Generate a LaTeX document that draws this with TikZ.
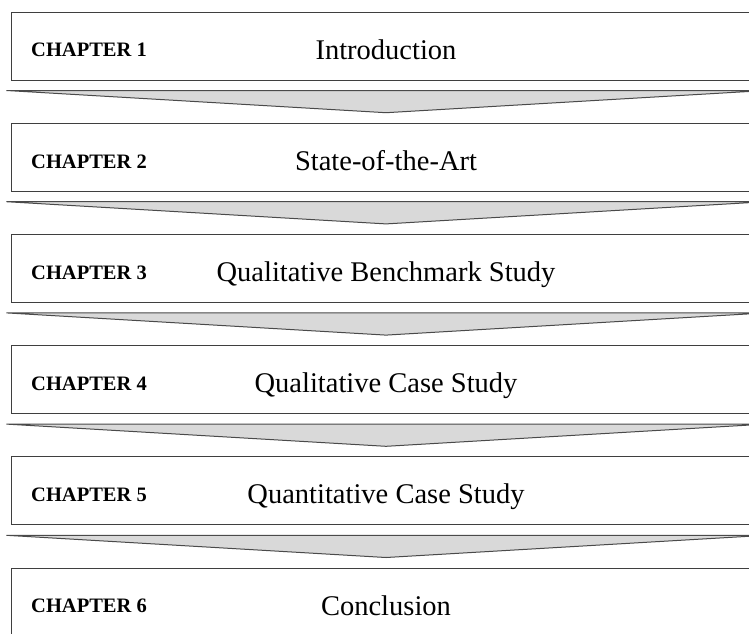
\documentclass[tikz,border=0pt]{standalone}
\usepackage{fontspec}
\setmainfont{Liberation Serif}
\usetikzlibrary{calc}
\definecolor{boxline}{HTML}{3F3F3F}
\definecolor{arrowline}{HTML}{4A4A4A}
\definecolor{arrowfill}{HTML}{D9D9D9}
\begin{document}
\begin{tikzpicture}[x=1pt,y=-1pt,
  chapbox/.style={draw=boxline, line width=1pt, minimum width=750pt,
    minimum height=68pt, inner sep=0pt, fill=white},
  chaplabel/.style={anchor=base west, inner sep=0pt,
    font=\fontsize{20.5}{24}\selectfont\bfseries},
  chaptitle/.style={anchor=base, inner sep=0pt,
    font=\fontsize{28.5}{34}\selectfont},
  flowarrow/.style={draw=arrowline, line width=1pt, fill=arrowfill,
    line join=miter}]
\useasboundingbox (0,0) rectangle (749,633);
\clip (0,0) rectangle (749,633);
% chapter boxes, one per row
\foreach \i/\t in {1/Introduction, 2/State-of-the-Art,
    3/Qualitative Benchmark Study, 4/Qualitative Case Study,
    5/Quantitative Case Study, 6/Conclusion}{
  \pgfmathsetmacro\rowtop{12+111.2*(\i-1)}
  \node[chapbox] (b\i) at (386,\rowtop+34) {};
  \node[chaplabel] (c\i) at (31,\rowtop+44.8) {CHAPTER \i};
  \node[chaptitle] (t\i) at (386,\rowtop+47) {\t};
}
% wide downward arrows between consecutive chapters
\foreach \i [evaluate=\i as \j using int(\i+1)] in {1,...,5}{
  \draw[flowarrow] ($(b\i.south west)+(-4,10)$) -- ($(b\i.south east)+(4,10)$)
    -- ($(b\j.north)+(0,-10)$) -- cycle;
}
\end{tikzpicture}
\end{document}
